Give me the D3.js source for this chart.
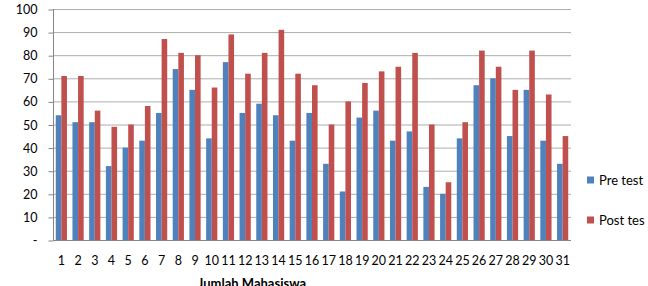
<!DOCTYPE html>
<html>
<head>
<meta charset="utf-8">
<script src="https://cdn.jsdelivr.net/npm/d3@7"></script>
<style>
body{margin:0;background:#fff;}
svg{display:block;font-family:Lato, "Open Sans", sans-serif;}
</style>
</head>
<body>
<svg id="chart" width="648" height="286"></svg>
<script>
const categories = d3.range(1, 32).map(String);
const preTest = [54,51,51,32,40,43,55,74,65,44,77,55,59,54,43,55,33,21,53,56,43,47,23,20,44,67,70,45,65,43,33];
const postTest = [71,71,56,49,50,58,87,81,80,66,89,72,81,91,72,67,50,60,68,73,75,81,50,25,51,82,75,65,82,63,45];
const seriesNames = ["Pre test", "Post tes"];
const yTicks = [0,10,20,30,40,50,60,70,80,90,100];
const colors = ["#4F81BD", "#C0504D"];

const svg = d3.select("#chart");
const m = {left: 53, right: 571, top: 9, bottom: 240};

const x = d3.scaleBand().domain(categories).range([m.left, m.right]).paddingInner(0.33).paddingOuter(0.165);
const xs = d3.scaleBand().domain(seriesNames).range([0, x.bandwidth()]);
const y = d3.scaleLinear().domain([0, 100]).range([m.bottom, m.top]);

// gridlines
svg.append("g").selectAll("line").data(yTicks.filter(d => d > 0)).join("line")
  .attr("x1", m.left).attr("x2", m.right)
  .attr("y1", d => y(d) + 0.5).attr("y2", d => y(d) + 0.5)
  .attr("stroke", "#ADADAD").attr("stroke-width", 1);

// y axis
const yAxis = d3.axisLeft(y).tickValues(yTicks).tickSize(5).tickPadding(11)
  .tickFormat(d => d === 0 ? "-" : d);
const gy = svg.append("g").attr("transform", `translate(${m.left + 0.5},0.5)`).call(yAxis);
gy.select(".domain").attr("stroke", "#868686").attr("d", `M0,${m.top - 0.5}V${m.bottom}`);
gy.selectAll(".tick line").attr("stroke", "#868686");
gy.selectAll("text").attr("font-size", 12.5).attr("fill", "#000").attr("font-family", "Lato, sans-serif");

// bars
const data = categories.map((c, i) => ({c, vals: [preTest[i], postTest[i]]}));
const grp = svg.append("g").selectAll("g").data(data).join("g")
  .attr("transform", d => `translate(${x(d.c)},0)`);
grp.selectAll("rect").data(d => d.vals.map((v, j) => ({v, s: seriesNames[j], j}))).join("rect")
  .attr("x", d => xs(d.s)).attr("width", xs.bandwidth())
  .attr("y", d => y(d.v)).attr("height", d => y(0) - y(d.v))
  .attr("fill", d => colors[d.j]);

// x axis
const xAxis = d3.axisBottom(x).tickSize(0).tickPadding(16);
const gx = svg.append("g").attr("transform", `translate(0,${m.bottom + 0.5})`).call(xAxis);
gx.select(".domain").attr("stroke", "#868686").attr("d", `M${m.left},0H${m.right}`);
gx.selectAll("text").attr("font-size", 12.5).attr("fill", "#000").attr("font-family", "Lato, sans-serif");

// axis titles
svg.append("text").attr("x", 252).attr("y", 288).attr("text-anchor", "middle")
  .attr("font-size", 13).attr("font-weight", "bold").text("Jumlah Mahasiswa");
svg.append("text").attr("transform", "translate(-1,123) rotate(-90)").attr("text-anchor", "middle")
  .attr("font-size", 13).attr("font-weight", "bold").text("Nilai");

// legend
const lg = svg.append("g").selectAll("g").data(seriesNames).join("g")
  .attr("transform", (d, i) => `translate(587,${180 + i * 40})`);
lg.append("rect").attr("x", 0).attr("y", -3.5).attr("width", 7).attr("height", 7)
  .attr("fill", (d, i) => colors[i]);
lg.append("text").attr("x", 12).attr("y", 0).attr("dy", "0.35em")
  .attr("font-size", 13).attr("fill", "#000").text(d => d);
</script>
</body>
</html>
